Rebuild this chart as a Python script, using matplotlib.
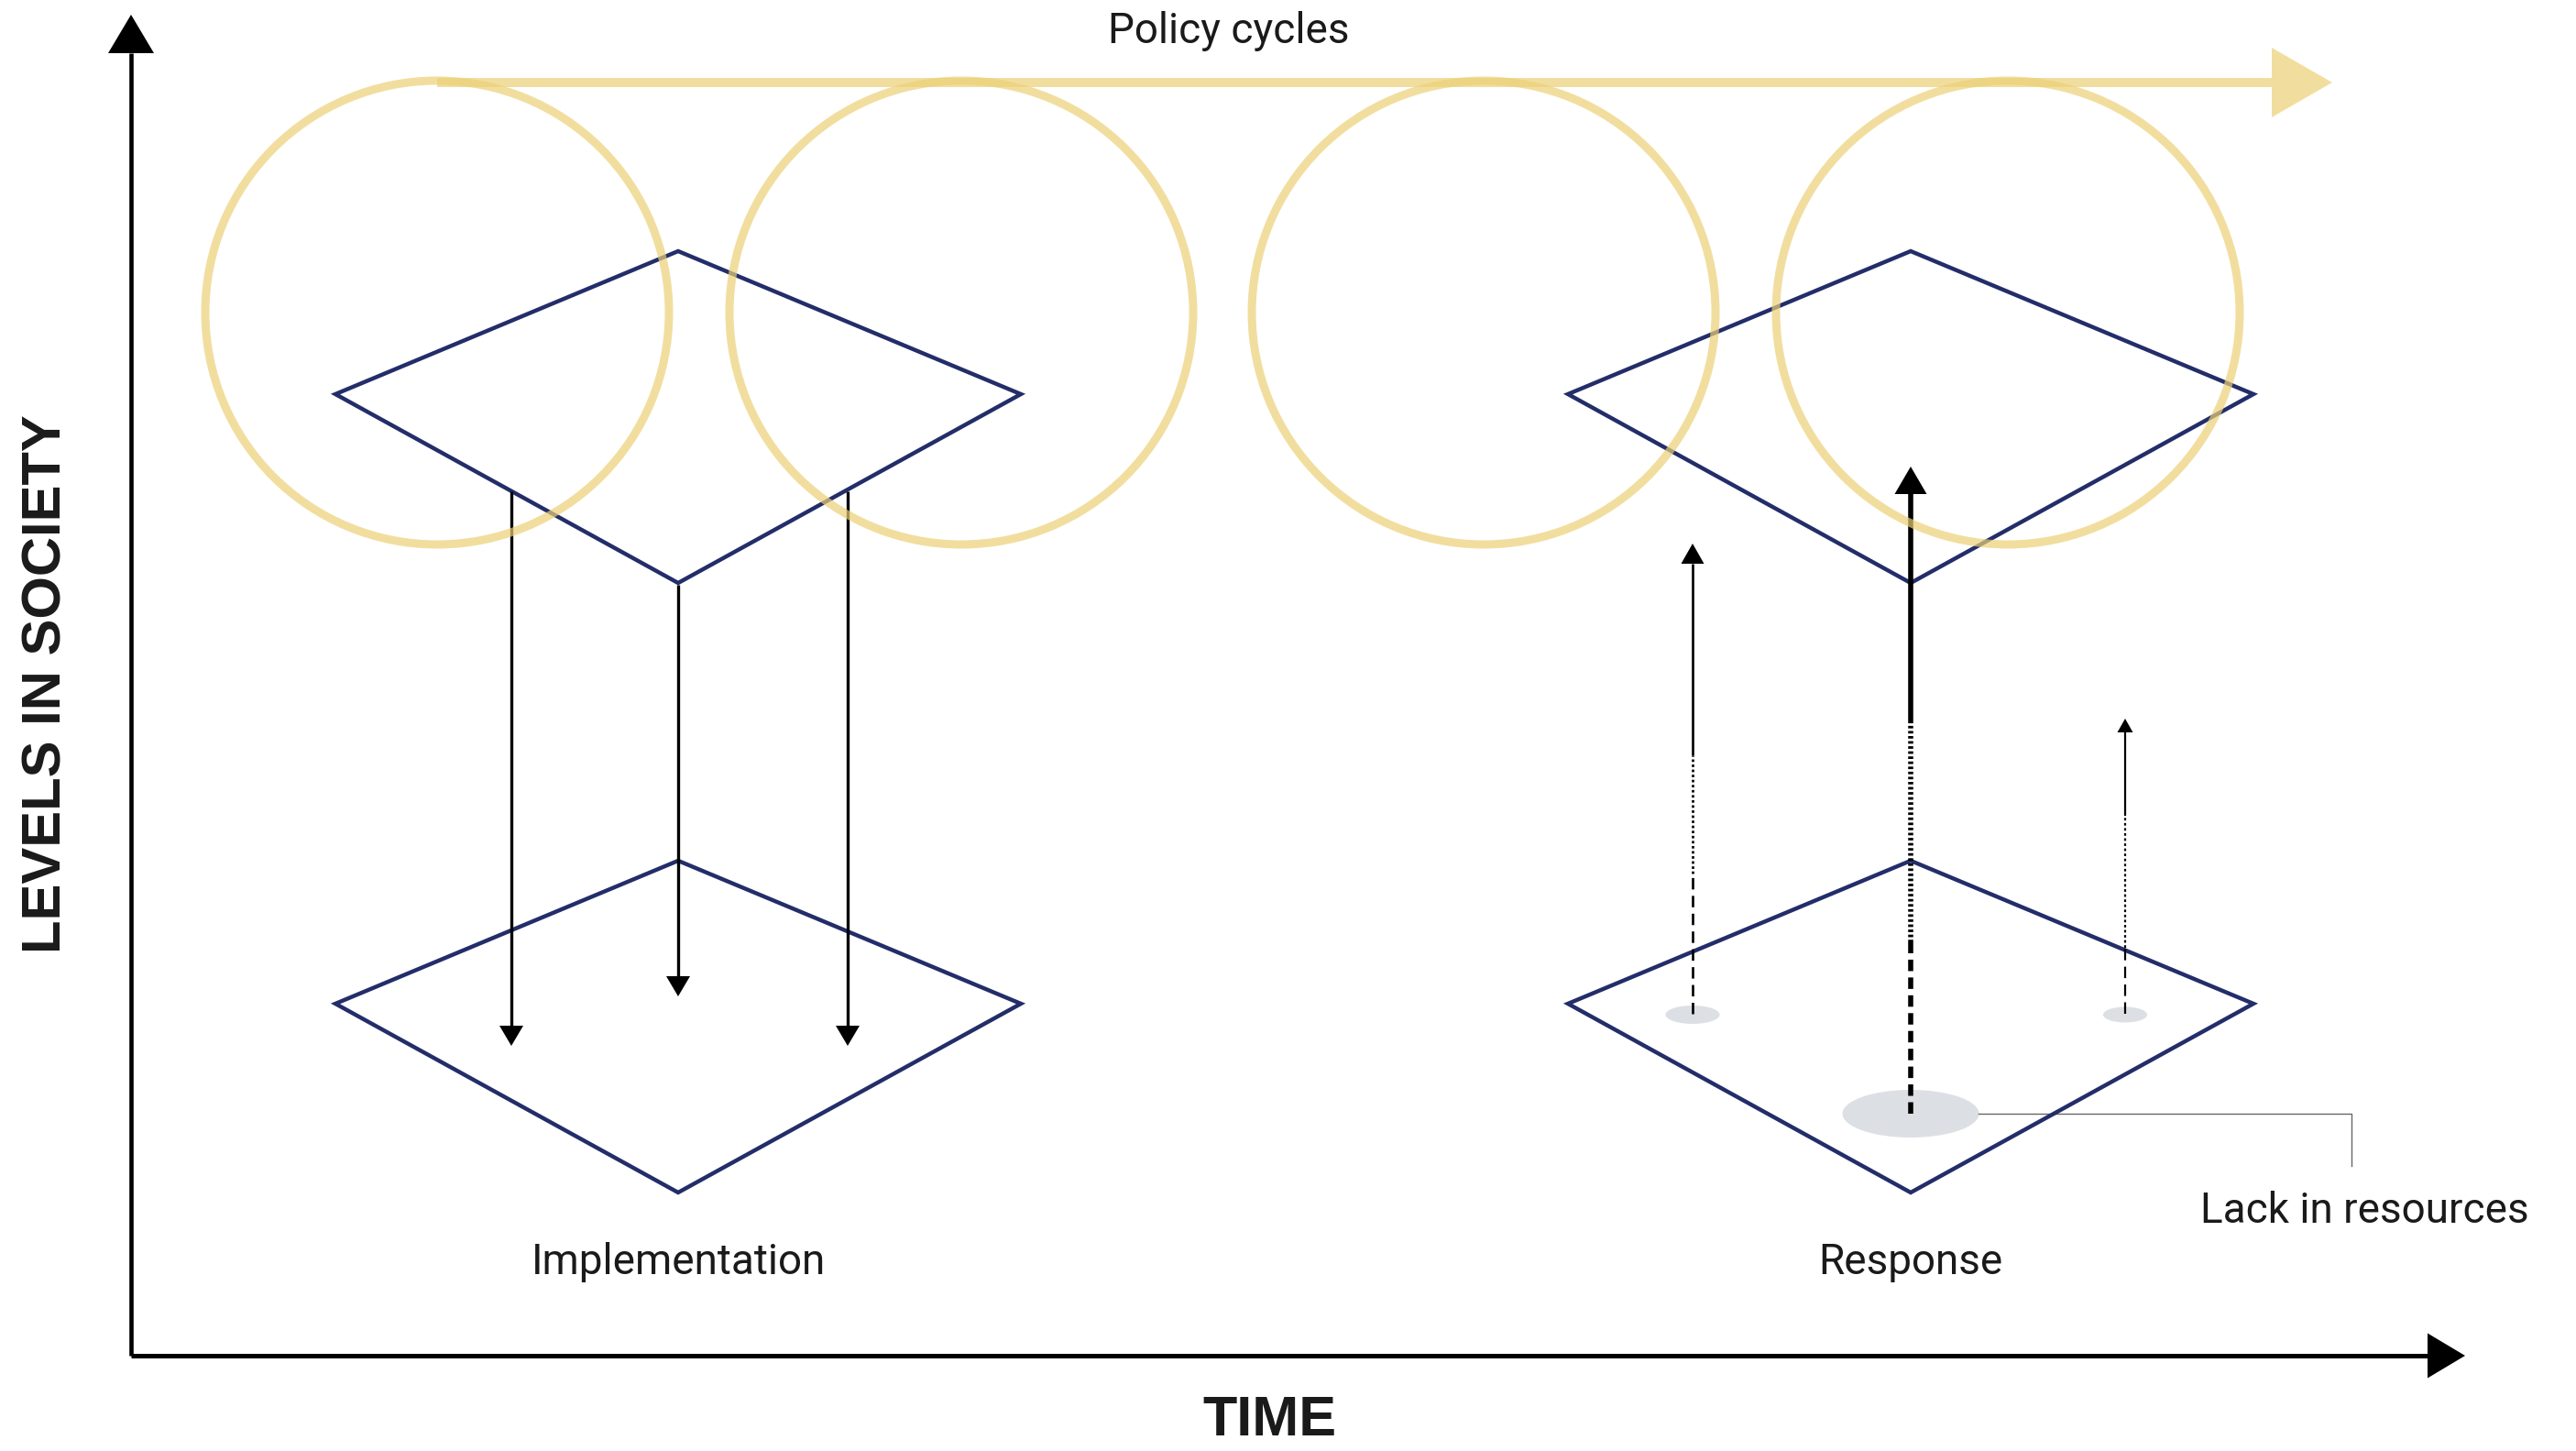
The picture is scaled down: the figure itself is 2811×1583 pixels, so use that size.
import matplotlib
matplotlib.use("Agg")
import matplotlib.pyplot as plt
from matplotlib.patches import Circle, Ellipse, Polygon

plt.rcParams['lines.scale_dashes'] = False
plt.rcParams['font.family'] = ['Roboto', 'DejaVu Sans']

# canvas is laid out in image pixels (x right, y down)
W, H = 2811, 1583

navy = '#232d69'
gold = '#ecd177'
grey_spot = '#dce0e4'
ink = '#1a1a1a'

# policy cycle circles along the top
cycle_x = [477, 1049, 1619, 2191]
cycle_y = 341
cycle_r = 253
cycle_line_y = 90
cycle_line_x = [477, 2479]

# levels (diamonds): centre x, y of the side vertices
level_x = [740, 740, 2085, 2085]
level_y = [430, 1095, 430, 1095]
half_w = 374
top_h = 156
bottom_h = 206

# implementation: arrows going down (x, start y, tip y)
down_x = [558, 740, 925]
down_start = [536, 638, 536]
down_tip = [1141, 1087, 1141]

# response: arrows going up from the resource spots
up_x = [1847, 2085, 2319]
up_dash = [(1106, 953), (1215, 1028), (1106, 1034)]
up_dot = [(953, 824), (1028, 787), (1034, 890)]
up_solid = [(824, 615), (787, 539), (890, 799)]
up_tip = [593, 509, 784]
up_head_w = [25, 35, 17]
up_lw = [1.9, 4.0, 1.6]
spot_y = [1107, 1215, 1107]
spot_w = [59, 149, 48]
spot_h = [20, 52, 17]

labels = ['Implementation', 'Response']
label_y = 1377


def head(ax, x, base, tip, width, color='black', horizontal=False, alpha=1.0):
    if horizontal:
        pts = [(base, x - width / 2), (base, x + width / 2), (tip, x)]
    else:
        pts = [(x - width / 2, base), (x + width / 2, base), (x, tip)]
    ax.add_patch(Polygon(pts, closed=True, color=color, lw=0, alpha=alpha, zorder=6))


fig = plt.figure(figsize=(W / 100, H / 100), dpi=100)
ax = fig.add_axes([0, 0, 1, 1])
ax.set_xlim(0, W)
ax.set_ylim(H, 0)
ax.axis('off')

# axes of the diagram
ax.plot([143, 143], [1479, 58], color='black', lw=3.3, solid_capstyle='butt')
head(ax, 143, 58, 16, 50)
ax.plot([143, 2649], [1479, 1479], color='black', lw=3.6, solid_capstyle='butt')
head(ax, 1479, 2649, 2690, 49, horizontal=True)

# diamonds
for cx, cy in zip(level_x, level_y):
    pts = [(cx, cy - top_h), (cx + half_w, cy), (cx, cy + bottom_h), (cx - half_w, cy)]
    ax.add_patch(Polygon(pts, closed=True, fill=False, ec=navy, lw=3.2, joinstyle='miter', zorder=3))

# down arrows
for x, s, t in zip(down_x, down_start, down_tip):
    ax.plot([x, x], [s, t - 22], color='black', lw=2.4, solid_capstyle='butt', zorder=4)
    head(ax, x, t - 22, t, 26)

# resource spots and up arrows
for i, x in enumerate(up_x):
    ax.add_patch(Ellipse((x, spot_y[i]), spot_w[i], spot_h[i], color=grey_spot, lw=0, zorder=2))
    ax.plot([x, x], up_dash[i], color='black', lw=up_lw[i], linestyle=(0, (9, 5)), zorder=4)
    ax.plot([x, x], up_dot[i], color='black', lw=up_lw[i], linestyle=(0, (2, 2)), zorder=4)
    ax.plot([x, x], up_solid[i], color='black', lw=up_lw[i], solid_capstyle='butt', zorder=4)
    head(ax, x, up_solid[i][1], up_tip[i], up_head_w[i])

# leader to the label
ax.plot([2159, 2566, 2566], [1215, 1215, 1272], color='#666666', lw=1.0, zorder=2)

# policy cycles
for cx in cycle_x:
    ax.add_patch(Circle((cx, cycle_y), cycle_r, fill=False, ec=gold, lw=6.5, alpha=0.7, zorder=5))
ax.plot(cycle_line_x, [cycle_line_y, cycle_line_y], color=gold, lw=7.2, alpha=0.7,
        solid_capstyle='butt', zorder=5)
head(ax, cycle_line_y, 2479, 2545, 76, color=gold, horizontal=True, alpha=0.7)

# text
ax.text(1341, 34, 'Policy cycles', ha='center', va='center', fontsize=33, color=ink)
for x, lab in zip([740, 2085], labels):
    ax.text(x, label_y, lab, ha='center', va='center', fontsize=33, color=ink)
ax.text(2580, 1321, 'Lack in resources', ha='center', va='center', fontsize=33, color=ink)
ax.text(51, 746, 'LEVELS IN SOCIETY', rotation=90, ha='center', va='center', fontsize=43,
        fontweight='bold', family=['Liberation Sans', 'DejaVu Sans'], color=ink)
ax.text(1385, 1551, 'TIME', ha='center', va='center', fontsize=44, fontweight='bold',
        family=['Liberation Sans Narrow', 'Liberation Sans', 'DejaVu Sans'], color=ink)

fig.savefig('out.png', dpi=100)
